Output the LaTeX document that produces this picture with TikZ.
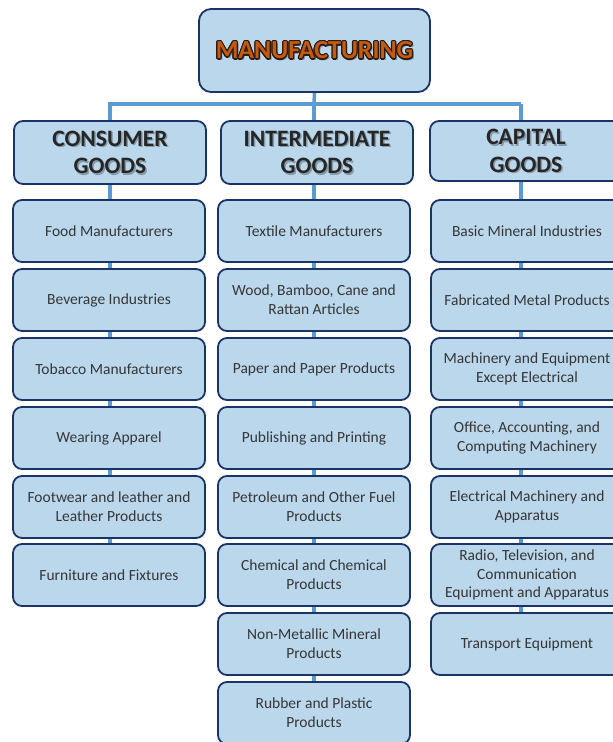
\documentclass[tikz,border=0pt]{standalone}
\usepackage{fontspec}
\setmainfont{Carlito}
\usetikzlibrary{backgrounds}

\definecolor{boxfill}{HTML}{BBD7EC}
\definecolor{boxline}{HTML}{1A3468}
\definecolor{linkblue}{HTML}{5B9BD5}
\definecolor{bodytext}{HTML}{363636}
\definecolor{headtext}{HTML}{262626}
\definecolor{titleorange}{HTML}{C55A11}
\definecolor{titleedge}{HTML}{2B1A0E}

\tikzset{
  base/.style={draw=boxline, line width=1.8pt, fill=boxfill, rounded corners=9pt,
    inner sep=0pt, align=center},
  itembox/.style={base, minimum width=192pt, minimum height=62pt,
    font=\fontsize{15.5}{19}\selectfont, text=bodytext},
  headbox/.style={base, minimum width=192pt, minimum height=63pt},
  topbox/.style={base, rounded corners=12pt, minimum width=231pt, minimum height=83pt},
  link/.style={draw=linkblue, line width=3.5pt},
  headfont/.style={font=\fontsize{23.5}{27.5}\selectfont\bfseries, align=center, inner sep=0pt},
  titlefont/.style={font=\fontsize{26}{30}\selectfont\bfseries, inner sep=0pt},
}

% header caption with a soft drop shadow
\newcommand\headcaption[3]{%
  \node[headfont, text=black, opacity=0.28, xshift=1.5pt, yshift=-1.5pt] (#1-sh) at (#2) {#3};
  \node[headfont, text=headtext] (#1-txt) at (#2) {#3};
}

\begin{document}
\begin{tikzpicture}[x=1pt, y=-1pt]
\useasboundingbox (0,0) rectangle (613,742);

% top level: orange title with a dark outline built from offset copies
\node[topbox] (top) at (314.5,50.5) {};
\node[titlefont, text=black, opacity=0.3, xshift=2pt, yshift=-2pt] (title-shadow) at (top.center) {MANUFACTURING};
\foreach \a [count=\i] in {0,30,...,330}
  \node[titlefont, text=titleedge] (title-edge-\i) at ([shift={(\a:1.2pt)}]top.center) {MANUFACTURING};
\node[titlefont, text=titleorange] (title) at (top.center) {MANUFACTURING};

% category headers
\node[headbox] (cg) at (110,152.5) {};
\node[headbox] (ig) at (317,152.5) {};
\node[headbox, minimum height=60pt] (kg) at (526,151) {};
\headcaption{cgt}{cg.center}{CONSUMER\\GOODS}
\headcaption{igt}{ig.center}{INTERMEDIATE\\GOODS}
\headcaption{kgt}{kg.center}{CAPITAL\\GOODS}

% consumer goods
\node[itembox] (c1) at (109,231) {Food Manufacturers};
\node[itembox] (c2) at (109,300) {Beverage Industries};
\node[itembox] (c3) at (109,369) {Tobacco Manufacturers};
\node[itembox] (c4) at (109,438) {Wearing Apparel};
\node[itembox] (c5) at (109,507) {Footwear and leather and\\Leather Products};
\node[itembox] (c6) at (109,575) {Furniture and Fixtures};

% intermediate goods
\node[itembox] (m1) at (314,231) {Textile Manufacturers};
\node[itembox] (m2) at (314,300) {Wood, Bamboo, Cane and\\Rattan Articles};
\node[itembox] (m3) at (314,369) {Paper and Paper Products};
\node[itembox] (m4) at (314,438) {Publishing and Printing};
\node[itembox] (m5) at (314,507) {Petroleum and Other Fuel\\Products};
\node[itembox] (m6) at (314,575) {Chemical and Chemical\\Products};
\node[itembox] (m7) at (314,644) {Non-Metallic Mineral\\Products};
\node[itembox] (m8) at (314,713) {Rubber and Plastic\\Products};

% capital goods
\node[itembox] (k1) at (527,231) {Basic Mineral Industries};
\node[itembox] (k2) at (527,300) {Fabricated Metal Products};
\node[itembox] (k3) at (527,369) {Machinery and Equipment\\Except Electrical};
\node[itembox] (k4) at (527,438) {Office, Accounting, and\\Computing Machinery};
\node[itembox] (k5) at (527,507) {Electrical Machinery and\\Apparatus};
\node[itembox, font=\fontsize{15.5}{18.5}\selectfont] (k6) at (527,575) {Radio, Television, and\\Communication\\Equipment and Apparatus};
\node[itembox] (k7) at (527,644) {Transport Equipment};

% connectors run behind the boxes
\begin{scope}[on background layer]
  \coordinate (bus) at (314,104);
  \coordinate (kline) at (521,104);
  \draw[link] (top.south) -- (bus);
  \draw[link] (cg.north) |- (bus) -| (kline);
  \draw[link] (cg.south) -- (cg.south |- c6.center);
  \draw[link] (bus) -- (bus |- m8.south);
  \draw[link] (kline) -- (kline |- k7.center);
\end{scope}
\end{tikzpicture}
\end{document}
